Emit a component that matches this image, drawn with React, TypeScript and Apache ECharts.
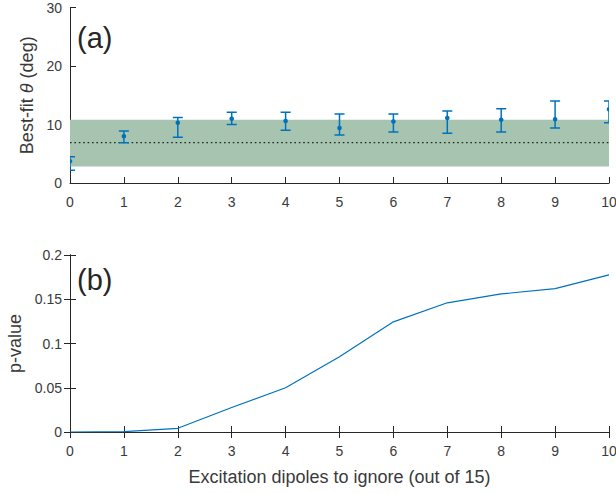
import React, { useEffect, useRef } from "react";
import * as echarts from "echarts";

const dipolesIgnored = [0, 1, 2, 3, 4, 5, 6, 7, 8, 9, 10];
const thetaBest = [3.7, 8.0, 10.3, 11.0, 10.6, 9.4, 10.5, 11.1, 10.8, 10.9, 12.6];
const thetaLow = [2.2, 6.9, 7.8, 10.0, 9.0, 8.2, 8.7, 8.5, 8.7, 9.4, 10.3];
const thetaHigh = [4.5, 8.9, 11.2, 12.1, 12.1, 11.8, 11.8, 12.3, 12.7, 14.0, 14.0];
const bandRange = [2.8, 10.8];
const thetaMean = 6.9;
const pValues = [0, 0.0005, 0.0042, 0.0277, 0.05, 0.085, 0.1245, 0.146, 0.156, 0.162, 0.1776];
const xTicks = { min: 0, max: 10, interval: 1 };

const FONT = "'Liberation Sans', Arial, sans-serif";
const AXIS_COLOR = "#262626";
const LABEL_COLOR = "#3a3a3a";
const BLUE = "#0072BD";

export default function App() {
  const ref = useRef<HTMLDivElement>(null);

  useEffect(() => {
    if (!ref.current) return;
    document.body.style.margin = "0";
    const chart = echarts.init(ref.current, null, { renderer: "svg" });

    const axisLine = { show: true, lineStyle: { color: AXIS_COLOR, width: 1 } };
    const axisTick = { show: true, inside: true, length: 6, lineStyle: { color: AXIS_COLOR } };
    const xLabel = { color: LABEL_COLOR, fontSize: 14, fontFamily: FONT, margin: 12 };
    const yLabel = { color: LABEL_COLOR, fontSize: 14, fontFamily: FONT, margin: 8, lineHeight: 14 };
    const nameStyle = { color: LABEL_COLOR, fontSize: 18, fontFamily: FONT };

    const errData = dipolesIgnored.map((x, i) => [x, thetaBest[i], thetaLow[i], thetaHigh[i]]);

    const option: any = {
      animation: false,
      backgroundColor: "#ffffff",
      textStyle: { fontFamily: FONT },
      grid: [
        { left: 70, right: 7, top: 7.5, height: 175.5, outerBoundsMode: "none", containLabel: false },
        { left: 70, right: 7, top: 255, height: 177, outerBoundsMode: "none", containLabel: false },
      ],
      xAxis: [
        {
          type: "value", gridIndex: 0, ...xTicks,
          axisLine, axisTick, axisLabel: xLabel, splitLine: { show: false },
        },
        {
          type: "value", gridIndex: 1, ...xTicks,
          axisLine, axisTick, axisLabel: xLabel, splitLine: { show: false },
          name: "Excitation dipoles to ignore (out of 15)",
          nameLocation: "middle", nameGap: 36,
          nameTextStyle: nameStyle,
        },
        {
          type: "value", gridIndex: 1, ...xTicks, position: "top",
          axisLine, axisTick, axisLabel: { show: false }, splitLine: { show: false },
        },
      ],
      yAxis: [
        {
          type: "value", gridIndex: 0, min: 0, max: 30, interval: 10,
          axisLine, axisTick, axisLabel: yLabel, splitLine: { show: false },
          name: "{n|Best-fit }{i|θ}{n| (deg)}",
          nameLocation: "middle", nameGap: 25,
          nameTextStyle: {
            ...nameStyle,
            rich: {
              n: { ...nameStyle },
              i: { ...nameStyle, fontStyle: "italic" },
            },
          },
        },
        {
          type: "value", gridIndex: 1, min: 0, max: 0.2, interval: 0.05,
          axisLine, axisTick, axisLabel: yLabel, splitLine: { show: false },
          name: "p-value", nameLocation: "middle", nameGap: 41,
          nameTextStyle: nameStyle,
        },
        {
          type: "value", gridIndex: 1, min: 0, max: 0.2, interval: 0.05, position: "right",
          axisLine, axisTick, axisLabel: { show: false }, splitLine: { show: false },
        },
      ],
      series: [
        {
          type: "line",
          xAxisIndex: 0, yAxisIndex: 0,
          data: [[xTicks.min, thetaMean], [xTicks.max, thetaMean]],
          symbol: "none",
          lineStyle: { color: "#1f2a22", width: 1.4, type: [1.6, 2.8] },
          z: 3,
          markArea: {
            silent: true,
            itemStyle: { color: "#a7c4b0" },
            data: [[
              { xAxis: xTicks.min, yAxis: bandRange[0] },
              { xAxis: xTicks.max, yAxis: bandRange[1] },
            ]],
          },
        },
        {
          type: "custom",
          xAxisIndex: 0, yAxisIndex: 0,
          clip: true,
          z: 5,
          data: errData,
          encode: { x: 0, y: 1 },
          renderItem: (params: any, api: any) => {
            const x = api.value(0);
            const c = api.coord([x, api.value(1)]);
            const lo = api.coord([x, api.value(2)]);
            const hi = api.coord([x, api.value(3)]);
            const hw = 5;
            const st = { stroke: BLUE, lineWidth: 1.5 };
            return {
              type: "group",
              children: [
                { type: "line", shape: { x1: lo[0], y1: lo[1], x2: hi[0], y2: hi[1] }, style: st },
                { type: "line", shape: { x1: lo[0] - hw, y1: lo[1], x2: lo[0] + hw, y2: lo[1] }, style: st },
                { type: "line", shape: { x1: hi[0] - hw, y1: hi[1], x2: hi[0] + hw, y2: hi[1] }, style: st },
                { type: "circle", shape: { cx: c[0], cy: c[1], r: 2.3 }, style: { fill: BLUE } },
              ],
            };
          },
        },
        {
          type: "line",
          xAxisIndex: 1, yAxisIndex: 1,
          data: dipolesIgnored.map((x, i) => [x, pValues[i]]),
          symbol: "none",
          lineStyle: { color: BLUE, width: 1.2 },
        },
      ],
      graphic: [
        {
          type: "text", left: 77, top: 23,
          style: { text: "(a)", fontSize: 29, fontFamily: FONT, fill: "#262626" },
        },
        {
          type: "text", left: 77, top: 265,
          style: { text: "(b)", fontSize: 29, fontFamily: FONT, fill: "#262626" },
        },
      ],
    };

    chart.setOption(option);
    return () => chart.dispose();
  }, []);

  return (
    <div
      ref={ref}
      style={{ position: "fixed", left: 0, top: 0, width: 616, height: 493, background: "#fff" }}
    />
  );
}
